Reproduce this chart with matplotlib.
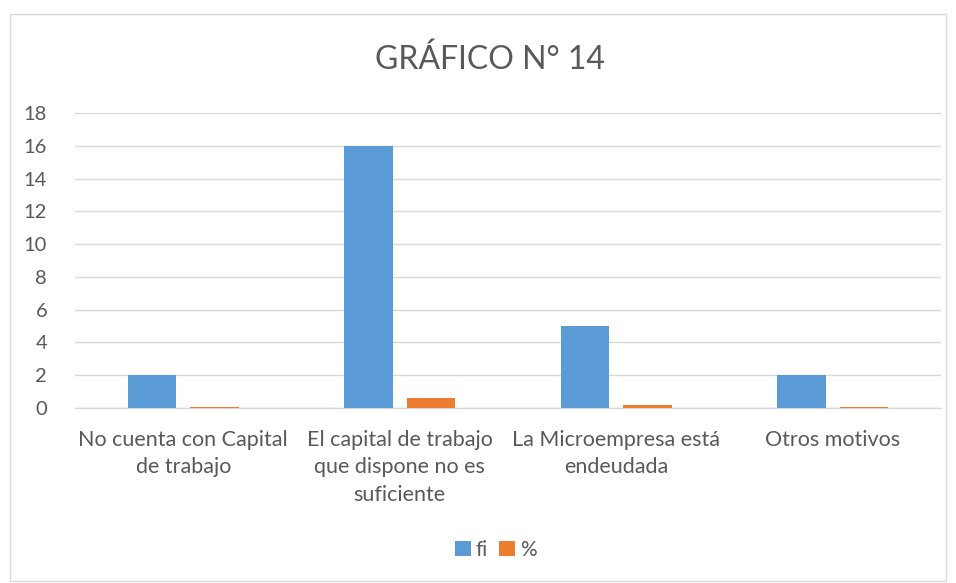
import matplotlib
matplotlib.use("Agg")
import matplotlib.pyplot as plt
from matplotlib.patches import Rectangle
import numpy as np

categories = ["No cuenta con Capital\nde trabajo",
              "El capital de trabajo\nque dispone no es\nsuficiente",
              "La Microempresa está\nendeudada",
              "Otros motivos"]
fi = [2, 16, 5, 2]
pct = [0.08, 0.64, 0.2, 0.08]
yticks = [0, 2, 4, 6, 8, 10, 12, 14, 16, 18]

plt.rcParams['font.family'] = ['Lato', 'DejaVu Sans']
txt = '#595959'

fig = plt.figure(figsize=(9.56, 5.83), dpi=100)
fig.patches.append(Rectangle((10/956, 1-581/583), 936/956, 567/583, transform=fig.transFigure,
                             fill=False, edgecolor='#d9d9d9', linewidth=1))
ax = fig.add_axes([75/956, 1-408/583, 866/956, 295/583])

x = np.arange(len(categories))
w = 0.225
off = 0.145
ax.bar(x - off, fi, w, color='#5b9bd5', label='fi', zorder=3)
ax.bar(x + off, pct, w, color='#ed7d31', label='%', zorder=3)

ax.set_xlim(-0.5, 3.5)
ax.set_ylim(0, 18)
ax.set_yticks(yticks)
ax.yaxis.grid(True, color='#d9d9d9', linewidth=1, zorder=0)
for s in ['top', 'right', 'left']:
    ax.spines[s].set_visible(False)
ax.spines['bottom'].set_color('#d9d9d9')
ax.spines['bottom'].set_linewidth(1)
ax.tick_params(axis='both', length=0, colors=txt)
ax.tick_params(axis='y', pad=20, labelsize=14.5)
ax.tick_params(axis='x', pad=16, labelsize=15.5)
ax.set_xticks(x)
ax.set_xticklabels(categories, linespacing=1.45)

fig.text(490/956, 1-60/583, 'GRÁFICO N° 14', ha='center', va='center', fontsize=23, color=txt)
fig.legend(loc='center', bbox_to_anchor=(496/956, 1-550/583), ncol=2, frameon=False,
           fontsize=15, labelcolor=txt, handlelength=0.75, handleheight=0.75,
           handletextpad=0.25, columnspacing=0.55)

fig.savefig('out.png', dpi=100)
